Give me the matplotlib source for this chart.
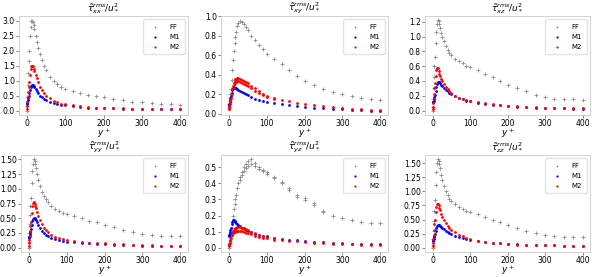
import matplotlib
matplotlib.use("Agg")
import matplotlib.pyplot as plt

# y+ positions shared by all series
yp = [0, 1, 2, 3, 4, 5, 6, 8, 10, 12, 14, 16, 18, 20, 23, 26, 30, 35, 40, 45,
      50, 60, 70, 80, 90, 100, 120, 140, 160, 180, 200, 225, 250, 275, 300,
      325, 350, 375, 400]

# tau_xx
xx_ff = [0.0, 0.15, 0.45, 0.85, 1.25, 1.65, 2.0, 2.5, 2.8, 2.97, 3.0, 2.95, 2.85, 2.72, 2.5, 2.3, 2.1, 1.9,
         1.7, 1.5, 1.35, 1.12, 0.97, 0.87, 0.79, 0.73, 0.65, 0.58, 0.53, 0.48, 0.44, 0.38, 0.34, 0.3,
         0.27, 0.24, 0.22, 0.21, 0.2]
xx_m1 = [0.25, 0.22, 0.27, 0.35, 0.42, 0.5, 0.57, 0.68, 0.77, 0.83, 0.85, 0.84, 0.81, 0.77, 0.71, 0.65, 0.58,
         0.5, 0.44, 0.39, 0.35, 0.29, 0.24, 0.21, 0.19, 0.17, 0.14, 0.12, 0.1, 0.09, 0.08, 0.07, 0.06,
         0.055, 0.05, 0.045, 0.04, 0.04, 0.04]
xx_m2 = [0.05, 0.15, 0.3, 0.45, 0.62, 0.8, 0.95, 1.2, 1.38, 1.48, 1.5, 1.47, 1.4, 1.32, 1.2, 1.08, 0.95, 0.8,
         0.68, 0.58, 0.5, 0.42, 0.33, 0.27, 0.23, 0.21, 0.17, 0.14, 0.12, 0.1, 0.09, 0.08, 0.07, 0.065,
         0.06, 0.055, 0.05, 0.05, 0.05]

# tau_xy
xy_ff = [0.05, 0.07, 0.1, 0.13, 0.16, 0.2, 0.25, 0.35, 0.45, 0.55, 0.64, 0.72, 0.79, 0.84, 0.9, 0.93, 0.95,
         0.94, 0.92, 0.89, 0.86, 0.8, 0.75, 0.7, 0.66, 0.61, 0.56, 0.51, 0.45, 0.39, 0.34, 0.3, 0.25,
         0.22, 0.2, 0.18, 0.165, 0.155, 0.145]
xy_m1 = [0.08, 0.09, 0.1, 0.12, 0.14, 0.16, 0.18, 0.21, 0.24, 0.26, 0.27, 0.27, 0.265, 0.26, 0.25, 0.24,
         0.23, 0.22, 0.21, 0.2, 0.19, 0.17, 0.155, 0.14, 0.13, 0.12, 0.11, 0.1, 0.09, 0.08, 0.075, 0.065,
         0.06, 0.055, 0.05, 0.045, 0.04, 0.035, 0.035]
xy_m2 = [0.05, 0.06, 0.08, 0.1, 0.12, 0.14, 0.16, 0.2, 0.25, 0.29, 0.32, 0.34, 0.355, 0.36, 0.365, 0.365,
         0.36, 0.35, 0.34, 0.33, 0.32, 0.29, 0.26, 0.23, 0.2, 0.18, 0.16, 0.145, 0.13, 0.115, 0.1, 0.09,
         0.08, 0.07, 0.06, 0.055, 0.05, 0.045, 0.04]
# second (lower) branch of M2, tau_xy
xy_m2b_yp = [12, 14, 16, 18, 20, 23, 26, 30, 35, 40, 45, 50, 60, 70, 80, 90, 100, 120]
xy_m2b = [0.27, 0.3, 0.315, 0.325, 0.33, 0.335, 0.335, 0.33, 0.32, 0.31, 0.3, 0.29, 0.26, 0.235, 0.21,
          0.19, 0.17, 0.155]

# tau_xz
xz_ff = [0.0, 0.05, 0.15, 0.3, 0.45, 0.6, 0.72, 0.92, 1.07, 1.17, 1.22, 1.21, 1.17, 1.12, 1.05, 1.0, 0.94,
         0.87, 0.82, 0.78, 0.75, 0.7, 0.67, 0.64, 0.61, 0.59, 0.55, 0.5, 0.45, 0.4, 0.35, 0.3, 0.26,
         0.21, 0.18, 0.16, 0.155, 0.15, 0.145]
xz_m1 = [0.12, 0.12, 0.12, 0.13, 0.15, 0.18, 0.21, 0.27, 0.32, 0.36, 0.38, 0.385, 0.38, 0.37, 0.35, 0.33,
         0.31, 0.28, 0.26, 0.24, 0.22, 0.19, 0.165, 0.15, 0.135, 0.125, 0.105, 0.09, 0.08, 0.07, 0.06,
         0.05, 0.045, 0.04, 0.035, 0.03, 0.03, 0.025, 0.025]
xz_m2 = [0.02, 0.05, 0.1, 0.16, 0.22, 0.3, 0.37, 0.47, 0.55, 0.58, 0.57, 0.54, 0.5, 0.47, 0.43, 0.4, 0.36,
         0.32, 0.29, 0.26, 0.24, 0.2, 0.17, 0.15, 0.14, 0.13, 0.11, 0.095, 0.085, 0.075, 0.065, 0.055,
         0.05, 0.045, 0.04, 0.035, 0.035, 0.03, 0.03]

# tau_yy
yy_ff = [0.0, 0.1, 0.25, 0.4, 0.55, 0.7, 0.85, 1.1, 1.3, 1.43, 1.5, 1.48, 1.42, 1.35, 1.25, 1.15, 1.05,
         0.95, 0.88, 0.82, 0.78, 0.71, 0.66, 0.62, 0.59, 0.57, 0.53, 0.5, 0.46, 0.43, 0.39, 0.35, 0.3,
         0.26, 0.23, 0.21, 0.2, 0.2, 0.195]
yy_m1 = [0.18, 0.17, 0.18, 0.2, 0.23, 0.27, 0.31, 0.39, 0.45, 0.49, 0.51, 0.51, 0.49, 0.47, 0.43, 0.39,
         0.34, 0.29, 0.25, 0.22, 0.2, 0.17, 0.14, 0.125, 0.11, 0.1, 0.09, 0.08, 0.07, 0.065, 0.06, 0.05,
         0.045, 0.04, 0.035, 0.035, 0.03, 0.03, 0.03]
yy_m2 = [0.03, 0.07, 0.13, 0.2, 0.28, 0.36, 0.44, 0.58, 0.7, 0.76, 0.77, 0.75, 0.71, 0.67, 0.6, 0.54, 0.47,
         0.4, 0.34, 0.3, 0.27, 0.22, 0.18, 0.16, 0.14, 0.125, 0.11, 0.095, 0.085, 0.075, 0.07, 0.06,
         0.055, 0.05, 0.045, 0.04, 0.035, 0.035, 0.03]

# tau_yz
yz_ff = [0.0, 0.01, 0.02, 0.03, 0.04, 0.06, 0.08, 0.12, 0.16, 0.2, 0.24, 0.27, 0.3, 0.33, 0.37, 0.4, 0.44,
         0.47, 0.5, 0.52, 0.54, 0.55, 0.53, 0.5, 0.485, 0.47, 0.44, 0.41, 0.37, 0.33, 0.31, 0.28, 0.23,
         0.2, 0.185, 0.17, 0.16, 0.155, 0.155]
yz_ffb_yp = [30, 35, 40, 45, 50, 60, 70, 80, 90, 100, 120, 140, 160, 180, 200, 225, 250]
yz_ffb = [0.42, 0.45, 0.475, 0.495, 0.51, 0.52, 0.51, 0.49, 0.475, 0.46, 0.435, 0.405, 0.36, 0.315, 0.295,
          0.265, 0.225]
yz_m1 = [0.08, 0.075, 0.08, 0.09, 0.1, 0.11, 0.125, 0.145, 0.16, 0.17, 0.17, 0.165, 0.16, 0.155, 0.15,
         0.14, 0.135, 0.125, 0.12, 0.11, 0.105, 0.095, 0.085, 0.08, 0.075, 0.07, 0.062, 0.055, 0.05,
         0.045, 0.04, 0.036, 0.032, 0.03, 0.027, 0.025, 0.023, 0.022, 0.02]
yz_m2 = [0.01, 0.015, 0.02, 0.03, 0.04, 0.05, 0.06, 0.08, 0.095, 0.105, 0.112, 0.118, 0.122, 0.125, 0.127,
         0.127, 0.126, 0.122, 0.118, 0.113, 0.108, 0.098, 0.088, 0.08, 0.072, 0.066, 0.057, 0.05, 0.044,
         0.038, 0.034, 0.03, 0.027, 0.024, 0.022, 0.02, 0.018, 0.017, 0.016]
yz_m2b_yp = [10, 12, 14, 16, 18, 20, 23, 26, 30, 35, 40, 45, 50, 60, 70, 80, 90, 100, 120]
yz_m2b = [0.08, 0.09, 0.096, 0.1, 0.103, 0.105, 0.106, 0.106, 0.105, 0.102, 0.098, 0.094, 0.09, 0.082,
          0.075, 0.068, 0.062, 0.057, 0.05]

# tau_zz
zz_ff = [0.0, 0.05, 0.15, 0.3, 0.48, 0.66, 0.84, 1.12, 1.35, 1.5, 1.57, 1.55, 1.48, 1.41, 1.3, 1.2, 1.1,
         1.0, 0.93, 0.87, 0.83, 0.77, 0.72, 0.69, 0.66, 0.63, 0.6, 0.55, 0.5, 0.45, 0.4, 0.34, 0.29,
         0.26, 0.23, 0.2, 0.19, 0.185, 0.18]
zz_m1 = [0.12, 0.13, 0.14, 0.16, 0.18, 0.21, 0.24, 0.3, 0.35, 0.39, 0.41, 0.41, 0.4, 0.39, 0.37, 0.35,
         0.33, 0.3, 0.28, 0.26, 0.24, 0.21, 0.19, 0.17, 0.15, 0.14, 0.12, 0.1, 0.09, 0.08, 0.07, 0.06,
         0.055, 0.05, 0.045, 0.04, 0.035, 0.035, 0.03]
zz_m2 = [0.03, 0.08, 0.15, 0.23, 0.32, 0.42, 0.5, 0.63, 0.73, 0.78, 0.78, 0.75, 0.71, 0.67, 0.6, 0.55,
         0.5, 0.44, 0.39, 0.35, 0.32, 0.27, 0.23, 0.2, 0.17, 0.15, 0.12, 0.1, 0.085, 0.075, 0.065, 0.055,
         0.05, 0.045, 0.04, 0.04, 0.035, 0.035, 0.03]

titles = [r'$\tilde{\tau}^{rms}_{xx}/u_*^2$', r'$\tilde{\tau}^{rms}_{xy}/u_*^2$',
          r'$\tilde{\tau}^{rms}_{xz}/u_*^2$', r'$\tilde{\tau}^{rms}_{yy}/u_*^2$',
          r'$\tilde{\tau}^{rms}_{yz}/u_*^2$', r'$\tilde{\tau}^{rms}_{zz}/u_*^2$']

# y tick labels shown in each panel
yticks = [
    ['0.0', '0.5', '1.0', '1.5', '2.0', '2.5', '3.0'],
    ['0.0', '0.2', '0.4', '0.6', '0.8', '1.0'],
    ['0.0', '0.2', '0.4', '0.6', '0.8', '1.0', '1.2'],
    ['0.00', '0.25', '0.50', '0.75', '1.00', '1.25', '1.50'],
    ['0.0', '0.1', '0.2', '0.3', '0.4', '0.5'],
    ['0.00', '0.25', '0.50', '0.75', '1.00', '1.25', '1.50'],
]
xticks = [0, 100, 200, 300, 400]

panels = [
    (xx_ff, xx_m1, xx_m2, [], []),
    (xy_ff, xy_m1, xy_m2, [], [(xy_m2b_yp, xy_m2b)]),
    (xz_ff, xz_m1, xz_m2, [], []),
    (yy_ff, yy_m1, yy_m2, [], []),
    (yz_ff, yz_m1, yz_m2, [(yz_ffb_yp, yz_ffb)], [(yz_m2b_yp, yz_m2b)]),
    (zz_ff, zz_m1, zz_m2, [], []),
]

W, H = 592, 277
fig = plt.figure(figsize=(W / 100, H / 100), dpi=100)

# axes boxes in pixels: (left, right) per column, (top, bottom) per row
cols = [(19, 188), (221, 388), (425, 590)]
rows = [(16, 115), (155, 252)]

gray = '#8c8c8c'
for i, (ff, m1, m2, ffb, m2b) in enumerate(panels):
    r, c = divmod(i, 3)
    l, rr = cols[c]
    if i == 3:
        l = 21
    t, b = rows[r]
    ax = fig.add_axes([l / W, 1 - b / H, (rr - l) / W, (b - t) / H])

    ax.scatter(yp, ff, marker='+', s=7, linewidths=0.6, color=gray, label='FF')
    for xs, ys in ffb:
        ax.scatter(xs, ys, marker='+', s=7, linewidths=0.6, color=gray)
    ax.scatter(yp, m1, marker='o', s=4, linewidths=0, color='blue', label='M1')
    ax.scatter(yp, m2, marker='o', s=4, linewidths=0, color='red', label='M2')
    for xs, ys in m2b:
        ax.scatter(xs, ys, marker='o', s=4, linewidths=0, color='red')

    ax.set_yticks([float(v) for v in yticks[i]])
    ax.set_yticklabels(yticks[i])
    ax.set_xticks(xticks)
    ax.set_title(titles[i], fontsize=6.5, pad=1)
    ax.set_xlabel(r'$y^+$', fontsize=6.5, labelpad=-1)
    ax.tick_params(labelsize=5.5, length=2, width=0.5, pad=1, color='#555555')
    for s in ax.spines.values():
        s.set_color('#cccccc')
        s.set_linewidth(0.6)
    ax.legend(loc='upper right', fontsize=5, markerscale=0.8, handletextpad=1.2,
              borderpad=0.6, labelspacing=0.6, frameon=True, edgecolor='#dddddd')

fig.savefig('out.png', dpi=100)
